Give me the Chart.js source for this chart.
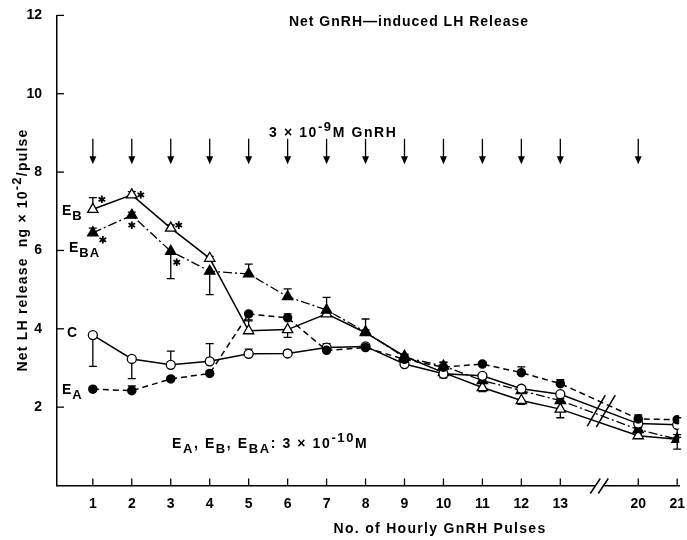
<!DOCTYPE html>
<html>
<head>
<meta charset="utf-8">
<script src="https://cdn.jsdelivr.net/npm/chart.js@4.4.0/dist/chart.umd.min.js"></script>
<style>
	html, body { margin: 0; padding: 0; background: #fff; }
	#caixa { width: 687px; height: 540px; }
</style>
</head>
<body>
<div id="caixa"><canvas id="myChart"></canvas></div>
<script>
var pulsos     = ['1', '2', '3', '4', '5', '6', '7', '8', '9', '10', '11', '12', '13', '20', '21'];
var posicoes   = [1, 2, 3, 4, 5, 6, 7, 8, 9, 10, 11, 12, 13, 15, 16];
var ticksY     = [2, 4, 6, 8, 10, 12];

var valoresEB  = [7.05, 7.42, 6.57, 5.80, 3.95, 3.98, 4.38, 3.90, 3.30, 2.88, 2.50, 2.17, 1.95, 1.27, 1.18];
var erroEB     = [0.30, 0.08, 0.08, 0.05, 0.25, -0.20, 0.05, 0.35, 0.05, 0.05, -0.10, -0.10, -0.22, 0.05, -0.25];
var valoresEBA = [6.45, 6.90, 5.98, 5.47, 5.40, 4.82, 4.48, 3.92, 3.27, 3.05, 2.68, 2.42, 2.17, 1.43, 1.18];
var erroEBA    = [0.12, 0.08, -0.70, -0.60, 0.25, 0.20, 0.32, 0.05, 0.05, 0.10, 0.05, 0.10, 0.05, 0.05, 0.05];
var valoresC   = [3.84, 3.23, 3.08, 3.17, 3.36, 3.37, 3.52, 3.55, 3.10, 2.85, 2.80, 2.47, 2.33, 1.58, 1.55];
var erroC      = [-0.80, -0.50, 0.35, 0.45, 0.12, 0.08, 0.10, 0.05, 0.05, -0.10, 0.05, 0.05, 0.05, 0.05, -0.25];
var valoresEA  = [2.46, 2.42, 2.72, 2.86, 4.38, 4.28, 3.45, 3.52, 3.22, 3.02, 3.10, 2.88, 2.60, 1.70, 1.68];
var erroEA     = [0.05, 0.12, 0.05, 0.06, -0.15, 0.10, 0.05, 0.05, 0.05, 0.12, 0.05, 0.15, 0.10, 0.10, 0.05];

// pulsos com seta de GnRH (todos menos o 21)
var pulsosSeta = ['1', '2', '3', '4', '5', '6', '7', '8', '9', '10', '11', '12', '13', '20'];

var FONTE = '"Liberation Sans", Arial, sans-serif';
var myChart;

function pontos(valores) {
	return valores.map(function(v, i) { return { x: posicoes[i], y: v }; });
}

// escreve partes de texto com sub/sobrescrito: [texto, 0 normal | 1 sub | -1 sup]
function escreve(ctx, partes, x, y, tam, alinhar, espaco) {
	ctx.save();
	ctx.letterSpacing = (espaco || 1) + 'px';
	ctx.textBaseline = 'alphabetic';
	ctx.textAlign = 'left';
	ctx.fillStyle = '#000';
	var larg = 0;
	partes.forEach(function(p) {
		ctx.font = 'bold ' + (p[1] ? tam - 1 : tam) + 'px ' + FONTE;
		larg += ctx.measureText(p[0]).width;
	});
	var cx = alinhar === 'center' ? x - larg / 2 : x;
	partes.forEach(function(p) {
		ctx.font = 'bold ' + (p[1] ? tam - 1 : tam) + 'px ' + FONTE;
		var dy = p[1] === 1 ? 5 : (p[1] === -1 ? -6 : 0);
		ctx.fillText(p[0], cx, y + dy);
		cx += ctx.measureText(p[0]).width;
	});
	ctx.restore();
}

function asterisco(ctx, x, y) {
	ctx.beginPath();
	for (var k = 0; k < 3; k++) {
		var ang = Math.PI / 2 + k * Math.PI / 3;
		ctx.moveTo(x - 3.8 * Math.cos(ang), y - 3.8 * Math.sin(ang));
		ctx.lineTo(x + 3.8 * Math.cos(ang), y + 3.8 * Math.sin(ang));
	}
	ctx.stroke();
}

var desenhos = {
	id: 'desenhos',
	beforeDatasetsDraw: function(chart) {
		var ctx = chart.ctx, xs = chart.scales.x, ys = chart.scales.y;
		ctx.save();
		ctx.strokeStyle = '#000';
		ctx.lineWidth = 1.3;
		chart.data.datasets.forEach(function(ds) {
			ds.erros.forEach(function(e, i) {
				var px = xs.getPixelForValue(posicoes[i]);
				var p0 = ys.getPixelForValue(ds.data[i].y);
				var p1 = ys.getPixelForValue(ds.data[i].y + e);
				ctx.beginPath();
				ctx.moveTo(px, p0); ctx.lineTo(px, p1);
				ctx.moveTo(px - 4, p1); ctx.lineTo(px + 4, p1);
				ctx.stroke();
			});
		});
		ctx.restore();
	},
	afterDatasetsDraw: function(chart) {
		var ctx = chart.ctx, xs = chart.scales.x, ys = chart.scales.y;
		var a = chart.chartArea;
		ctx.save();
		ctx.strokeStyle = '#000';
		ctx.fillStyle = '#000';
		ctx.lineWidth = 1.3;

		// marcas dos eixos para dentro
		posicoes.forEach(function(p) {
			var px = xs.getPixelForValue(p);
			ctx.beginPath(); ctx.moveTo(px, a.bottom); ctx.lineTo(px, a.bottom - 7); ctx.stroke();
		});
		ticksY.forEach(function(v) {
			var py = ys.getPixelForValue(v);
			ctx.beginPath(); ctx.moveTo(a.left, py); ctx.lineTo(a.left + 7, py); ctx.stroke();
		});

		// setas de GnRH
		pulsosSeta.forEach(function(s) {
			var px = xs.getPixelForValue(posicoes[pulsos.indexOf(s)]);
			var topo = ys.getPixelForValue(8.85), ponta = ys.getPixelForValue(8.2);
			ctx.beginPath(); ctx.moveTo(px, topo); ctx.lineTo(px, ponta - 6); ctx.stroke();
			ctx.beginPath();
			ctx.moveTo(px - 3.5, ponta - 8); ctx.lineTo(px + 3.5, ponta - 8); ctx.lineTo(px, ponta);
			ctx.closePath(); ctx.fill();
		});

		// quebra do eixo x e das linhas
		var bx = xs.getPixelForValue(14);
		ctx.fillStyle = '#fff';
		ctx.fillRect(bx - 4, a.bottom - 3, 9, 6);
		ctx.lineWidth = 1.5;
		ctx.beginPath();
		ctx.moveTo(bx - 9, a.bottom + 8); ctx.lineTo(bx + 1, a.bottom - 7);
		ctx.moveTo(bx - 1, a.bottom + 8); ctx.lineTo(bx + 9, a.bottom - 7);
		var by = ys.getPixelForValue(1.9);
		ctx.moveTo(bx - 12, by + 15); ctx.lineTo(bx + 6, by - 16);
		ctx.moveTo(bx - 3, by + 16); ctx.lineTo(bx + 16, by - 16);
		ctx.stroke();

		// asteriscos de significancia
		ctx.lineWidth = 1.8;
		var estrelas = [[valoresEB, 0, 9, -10], [valoresEB, 1, 9, 0], [valoresEB, 2, 8, -3],
			[valoresEBA, 0, 10, 7], [valoresEBA, 1, 0, 10], [valoresEBA, 2, 6, 11]];
		estrelas.forEach(function(s) {
			var px = xs.getPixelForValue(posicoes[s[1]]) + s[2];
			var py = ys.getPixelForValue(s[0][s[1]]) + s[3];
			asterisco(ctx, px, py);
		});
		ctx.restore();

		// rotulos das series
		escreve(ctx, [['E', 0], ['B', 1]], 62, 215, 14, 'left');
		escreve(ctx, [['E', 0], ['BA', 1]], 69, 252, 14, 'left');
		escreve(ctx, [['C', 0]], 67, 337, 14, 'left');
		escreve(ctx, [['E', 0], ['A', 1]], 62, 394, 14, 'left');

		// textos
		escreve(ctx, [['Net GnRH\u2014induced LH Release', 0]], 409, 26, 14, 'center', 1);
		escreve(ctx, [['3 \u00d7 10', 0], ['-9', -1], ['M GnRH', 0]], 269, 137, 14, 'left', 1.6);
		escreve(ctx, [['E', 0], ['A', 1], [', E', 0], ['B', 1], [', E', 0], ['BA', 1], [': 3 \u00d7 10', 0], ['-10', -1], ['M', 0]], 172, 448, 14, 'left', 1.6);
		escreve(ctx, [['No. of Hourly GnRH Pulses', 0]], 440, 533, 14, 'center', 1.3);

		ctx.save();
		ctx.translate(27, 250);
		ctx.rotate(-Math.PI / 2);
		escreve(ctx, [['Net LH release  ng \u00d7 10', 0], ['-2', -1], ['/pulse', 0]], 0, 0, 14, 'center', 1.2);
		ctx.restore();
	}
};

window.addEventListener('load', function() {
	myChart = new Chart('myChart', {
		type: 'line',
		data: {
			datasets: [
				{
					label: 'E_A', data: pontos(valoresEA), erros: erroEA,
					borderColor: '#000', borderWidth: 1.5, borderDash: [6, 4],
					pointStyle: 'circle', pointRadius: 4, pointBackgroundColor: '#000', pointBorderColor: '#000'
				},
				{
					label: 'C', data: pontos(valoresC), erros: erroC,
					borderColor: '#000', borderWidth: 1.5,
					pointStyle: 'circle', pointRadius: 4.5, pointBackgroundColor: '#fff', pointBorderColor: '#000', pointBorderWidth: 1.3
				},
				{
					label: 'E_BA', data: pontos(valoresEBA), erros: erroEBA,
					borderColor: '#000', borderWidth: 1.3, borderDash: [9, 3, 2, 3],
					pointStyle: 'triangle', pointRadius: 6, pointBackgroundColor: '#000', pointBorderColor: '#000'
				},
				{
					label: 'E_B', data: pontos(valoresEB), erros: erroEB,
					borderColor: '#000', borderWidth: 1.5,
					pointStyle: 'triangle', pointRadius: 6, pointBackgroundColor: '#fff', pointBorderColor: '#000', pointBorderWidth: 1.3
				}
			]
		},
		options: {
			responsive: true,
			maintainAspectRatio: false,
			animation: false,
			devicePixelRatio: 1,
			layout: { padding: { top: 12.5, right: 6, left: 0, bottom: 0 } },
			plugins: { legend: { display: false }, tooltip: { enabled: false } },
			scales: {
				x: {
					type: 'linear', min: 0.08, max: 16.05,
					afterBuildTicks: function(s) { s.ticks = posicoes.map(function(v) { return { value: v }; }); },
					afterFit: function(s) { s.height = 54.5; },
					grid: { display: false },
					border: { color: '#000', width: 1.5 },
					ticks: {
						color: '#000', padding: 2, maxRotation: 0, autoSkip: false,
						font: { family: FONTE, size: 14, weight: 'bold' },
						callback: function(v) { var i = posicoes.indexOf(v); return i < 0 ? '' : pulsos[i]; }
					}
				},
				y: {
					min: 0, max: 12,
					afterBuildTicks: function(s) { s.ticks = ticksY.map(function(v) { return { value: v }; }); },
					afterFit: function(s) { s.width = 57; },
					grid: { display: false },
					border: { color: '#000', width: 1.5 },
					ticks: {
						color: '#000', padding: 7,
						font: { family: FONTE, size: 14, weight: 'bold' }
					}
				}
			}
		},
		plugins: [desenhos]
	});
});
</script>
</body>
</html>
